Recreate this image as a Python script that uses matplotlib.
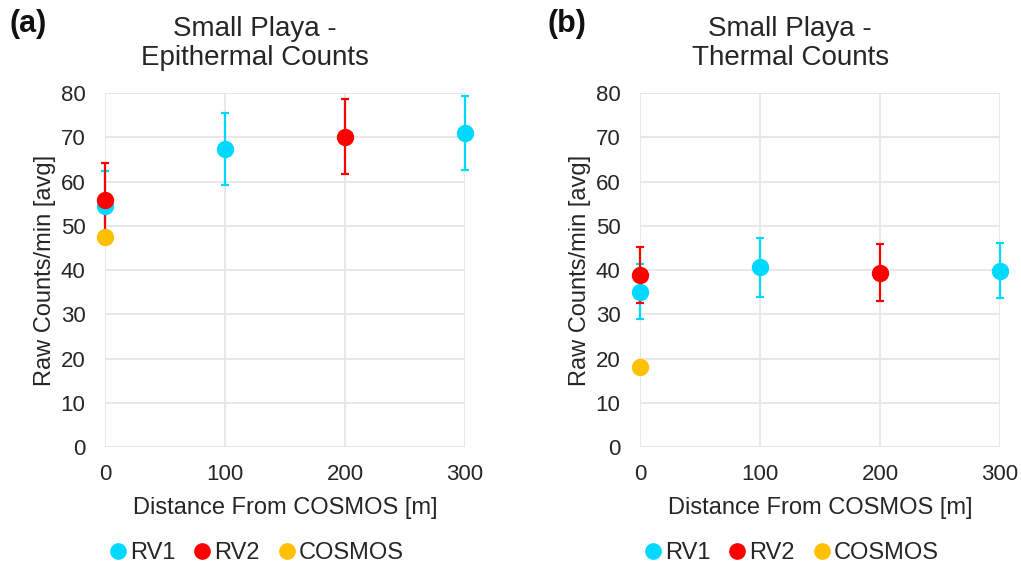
import matplotlib
matplotlib.use("Agg")
import matplotlib.pyplot as plt
from matplotlib.lines import Line2D

plt.rcParams['font.family'] = ['Liberation Sans', 'DejaVu Sans']

# Epithermal counts (panel a)
epi_rv1_x = [0, 100, 300]
epi_rv1_y = [54.5, 67.3, 71.0]
epi_rv1_err = [7.8, 8.2, 8.4]
epi_rv2_x = [0, 200]
epi_rv2_y = [55.8, 70.1]
epi_rv2_err = [8.3, 8.5]
epi_cosmos_x = [0]
epi_cosmos_y = [47.5]

# Thermal counts (panel b)
th_rv1_x = [0, 100, 300]
th_rv1_y = [35.1, 40.6, 39.8]
th_rv1_err = [6.2, 6.6, 6.2]
th_rv2_x = [0, 200]
th_rv2_y = [38.9, 39.4]
th_rv2_err = [6.3, 6.4]
th_cosmos_x = [0]
th_cosmos_y = [18.1]

x_ticks = [0, 100, 200, 300]
y_ticks = [0, 10, 20, 30, 40, 50, 60, 70, 80]

c_rv1 = '#00D9FF'
c_rv2 = '#FF0000'
c_cosmos = '#FFC000'
c_text = '#262626'

fig = plt.figure(figsize=(10.21, 5.66), dpi=100)
ax_a = fig.add_axes([0.1028, 0.2102, 0.3526, 0.6255])
ax_b = fig.add_axes([0.6268, 0.2102, 0.3526, 0.6255])


def panel(ax, title, rv1, rv2, cosmos):
    for (xs, ys, err), col in ((rv1, c_rv1), (rv2, c_rv2)):
        ax.errorbar(xs, ys, yerr=err, fmt='o', color=col, ms=11.5,
                    elinewidth=1.6, capsize=3, capthick=1.6, clip_on=False, zorder=3)
    ax.plot(cosmos[0], cosmos[1], 'o', color=c_cosmos, ms=11.5, clip_on=False, zorder=3)
    ax.set_xlim(0, 300)
    ax.set_ylim(0, 80)
    ax.set_xticks(x_ticks)
    ax.set_yticks(y_ticks)
    ax.grid(True, color='#E6E6E6', lw=1.3)
    ax.set_axisbelow(True)
    for s in ax.spines.values():
        s.set_visible(False)
    ax.tick_params(axis='y', length=0, labelsize=16, colors=c_text, pad=14)
    ax.tick_params(axis='x', length=0, labelsize=16, colors=c_text, pad=12)
    ax.set_xlabel('Distance From COSMOS [m]', fontsize=17, color=c_text)
    ax.set_ylabel('Raw Counts/min [avg]', fontsize=17, color=c_text)
    ax.xaxis.set_label_coords(0.5, -0.14)
    ax.yaxis.set_label_coords(-0.135, 0.5)
    ax.set_title(title, fontsize=20, color=c_text, pad=20, linespacing=1.18, x=0.417)
    handles = [Line2D([], [], marker='o', ls='', color=c, ms=11) for c in (c_rv1, c_rv2, c_cosmos)]
    ax.legend(handles, ['RV1', 'RV2', 'COSMOS'], loc='center',
              bbox_to_anchor=(0.42, -0.299), ncol=3, frameon=False, fontsize=17,
              handletextpad=0.1, columnspacing=0.75, handlelength=0.8,
              labelcolor=c_text)


panel(ax_a, 'Small Playa -\nEpithermal Counts',
      (epi_rv1_x, epi_rv1_y, epi_rv1_err), (epi_rv2_x, epi_rv2_y, epi_rv2_err),
      (epi_cosmos_x, epi_cosmos_y))
panel(ax_b, 'Small Playa -\nThermal Counts',
      (th_rv1_x, th_rv1_y, th_rv1_err), (th_rv2_x, th_rv2_y, th_rv2_err),
      (th_cosmos_x, th_cosmos_y))

fig.text(0.009, 0.958, '(a)', fontsize=22, fontweight='bold', va='center', color='#111111')
fig.text(0.536, 0.958, '(b)', fontsize=22, fontweight='bold', va='center', color='#111111')

fig.savefig('out.png', dpi=100)
